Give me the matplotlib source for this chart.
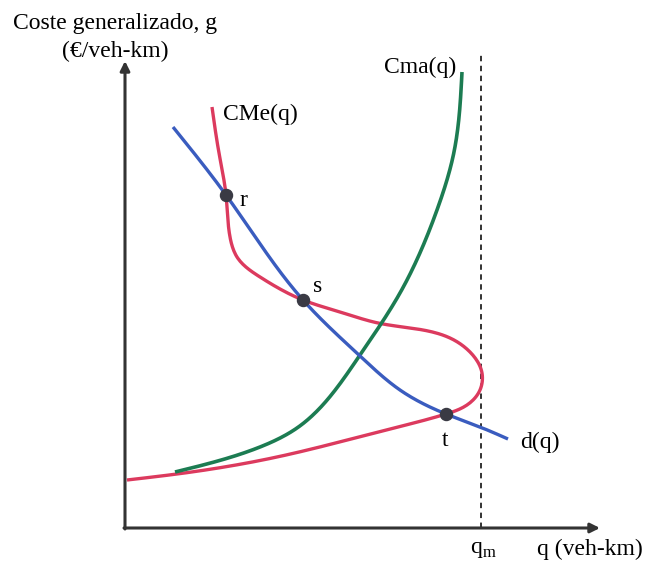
import numpy as np
import matplotlib
matplotlib.use('Agg')
import matplotlib.pyplot as plt

# curve points (q, g), origin at the axes corner
d_q = [48, 101, 178, 235, 275, 321, 355, 383]
d_g = [401, 333, 228, 172, 138, 114, 101, 89]

cme_q = [87, 94, 101, 105, 112, 135, 178, 215, 253, 298, 325, 345, 357, 355, 342, 321, 265, 152, 52, 2]
cme_g = [421, 375, 333, 291, 271, 251, 228, 216, 205, 198, 190, 176, 155, 138, 123, 114, 99, 71, 54, 48]

cma_q = [50, 135, 172, 235, 275, 312, 329, 337]
cma_g = [56, 81, 100, 173, 235, 318, 376, 456]

# equilibrium points r, s, t
pt_q = [101, 178, 321]
pt_g = [333, 228, 114]
pt_lab = ['r', 's', 't']

q_m = 356

def spline1d(t, v, tt):
    # natural cubic spline
    n = len(t)
    h = np.diff(t)
    A = np.zeros((n, n))
    b = np.zeros(n)
    A[0, 0] = A[-1, -1] = 1
    for i in range(1, n-1):
        A[i, i-1] = h[i-1]
        A[i, i] = 2*(h[i-1]+h[i])
        A[i, i+1] = h[i]
        b[i] = 3*((v[i+1]-v[i])/h[i] - (v[i]-v[i-1])/h[i-1])
    c = np.linalg.solve(A, b)
    bb = (v[1:]-v[:-1])/h - h*(2*c[:-1]+c[1:])/3
    d = (c[1:]-c[:-1])/(3*h)
    k = np.clip(np.searchsorted(t, tt) - 1, 0, n-2)
    dt = tt - t[k]
    return v[k] + bb[k]*dt + c[k]*dt**2 + d[k]*dt**3

def smooth(xs, ys, n=400):
    xs = np.asarray(xs, float)
    ys = np.asarray(ys, float)
    t = np.concatenate([[0], np.cumsum(np.hypot(np.diff(xs), np.diff(ys)))])
    tt = np.linspace(0, t[-1], n)
    return spline1d(t, xs, tt), spline1d(t, ys, tt)

fnt = ['Liberation Serif', 'DejaVu Serif']
plt.rcParams['font.family'] = fnt

fig = plt.figure(figsize=(6.48, 5.61), dpi=100)
ax = fig.add_axes([0, 0, 1, 1])
ax.set_xlim(-125, 523)
ax.set_ylim(-33, 528)
ax.axis('off')

axc = '#333333'
ax.annotate('', xy=(0, 467), xytext=(0, -1),
            arrowprops=dict(arrowstyle='-|>', color=axc, lw=2.2, mutation_scale=14, shrinkA=0, shrinkB=0))
ax.annotate('', xy=(475, 0), xytext=(-1, 0),
            arrowprops=dict(arrowstyle='-|>', color=axc, lw=2.2, mutation_scale=14, shrinkA=0, shrinkB=0))
ax.plot([q_m, q_m], [0, 476], color='#222222', lw=1.3, ls=(0, (3, 2.5)))

x, y = smooth(cme_q, cme_g)
ax.plot(x, y, color='#dc3a5e', lw=2.4, solid_capstyle='butt')
x, y = smooth(cma_q, cma_g)
ax.plot(x, y, color='#1c7c52', lw=2.6, solid_capstyle='butt')
x, y = smooth(d_q, d_g)
ax.plot(x, y, color='#3a5cbf', lw=2.4, solid_capstyle='butt')

ax.scatter(pt_q, pt_g, s=75, color='#3a3a44', zorder=5)

fs = 17
ax.text(-10, 505, 'Coste generalizado, g', fontsize=fs, ha='center', va='center')
ax.text(-10, 477, '(€/veh-km)', fontsize=fs, ha='center', va='center')
ax.text(98, 414, 'CMe(q)', fontsize=fs, ha='left', va='center')
ax.text(295, 461, 'Cma(q)', fontsize=fs, ha='center', va='center')
ax.text(pt_q[0]+13, pt_g[0]-5, pt_lab[0], fontsize=fs, ha='left', va='center')
ax.text(pt_q[1]+10, pt_g[1]+14, pt_lab[1], fontsize=fs, ha='left', va='center')
ax.text(pt_q[2]-1, pt_g[2]-26, pt_lab[2], fontsize=fs, ha='center', va='center')
ax.text(415, 86, 'd(q)', fontsize=fs, ha='center', va='center')
ax.text(q_m+2, -21, 'q$_\\mathregular{m}$', fontsize=fs, ha='center', va='center')
ax.text(465, -21, 'q (veh-km)', fontsize=fs, ha='center', va='center')

fig.savefig('out.png', dpi=100)
